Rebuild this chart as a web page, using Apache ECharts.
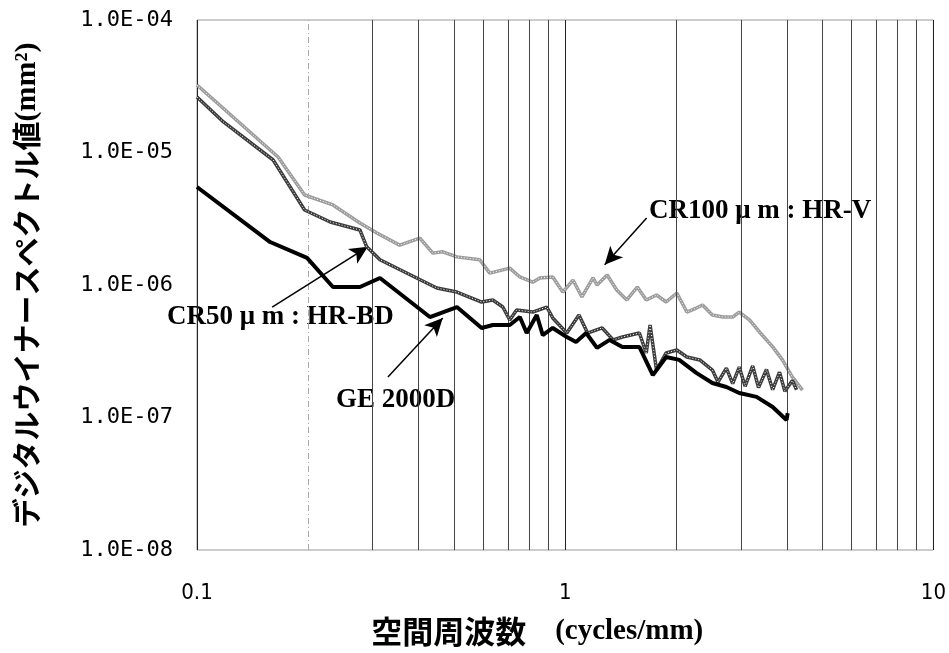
<!DOCTYPE html>
<html>
<head>
<meta charset="utf-8">
<script src="https://cdn.jsdelivr.net/npm/echarts@6/dist/echarts.min.js"></script>
<style>
  html, body { margin: 0; padding: 0; background: #fff; }
  #chart { width: 949px; height: 653px; }
</style>
</head>
<body>
<div id="chart"></div>
<script>
// CR100um : HR-V (light gray)
const hrvFreq = [0.1, 0.166, 0.196, 0.234, 0.277, 0.308, 0.355, 0.403, 0.437, 0.465, 0.508, 0.586, 0.624, 0.707, 0.753, 0.816, 0.853, 0.925, 0.985, 1.05, 1.11, 1.19, 1.22, 1.30, 1.38, 1.47, 1.57, 1.66, 1.77, 1.88, 2.01, 2.14, 2.27, 2.36, 2.51, 2.68, 2.85, 2.97, 3.17, 3.37, 3.66, 3.89, 4.14, 4.41];
const hrvValue = [3.23e-5, 9.25e-6, 4.78e-6, 4.02e-6, 2.94e-6, 2.47e-6, 2.00e-6, 2.26e-6, 1.74e-6, 1.78e-6, 1.63e-6, 1.55e-6, 1.23e-6, 1.34e-6, 1.15e-6, 1.05e-6, 1.13e-6, 1.15e-6, 8.85e-7, 1.09e-6, 8.12e-7, 1.13e-6, 1.00e-6, 1.19e-6, 9.17e-7, 7.71e-7, 9.66e-7, 7.71e-7, 8.40e-7, 7.44e-7, 8.70e-7, 6.25e-7, 6.70e-7, 7.06e-7, 5.94e-7, 5.73e-7, 5.73e-7, 6.25e-7, 5.44e-7, 4.42e-7, 3.41e-7, 2.72e-7, 2.02e-7, 1.61e-7];

// CR50um : HR-BD (dark gray)
const hrbdFreq = [0.1, 0.118, 0.161, 0.196, 0.230, 0.277, 0.289, 0.314, 0.395, 0.448, 0.508, 0.593, 0.636, 0.677, 0.707, 0.738, 0.816, 0.891, 0.925, 1.01, 1.09, 1.15, 1.26, 1.35, 1.43, 1.59, 1.66, 1.70, 1.77, 1.88, 2.01, 2.14, 2.32, 2.51, 2.60, 2.74, 2.85, 2.97, 3.08, 3.23, 3.35, 3.52, 3.66, 3.82, 3.95, 4.14, 4.25];
const hrbdValue = [2.62e-5, 1.70e-5, 8.78e-6, 3.68e-6, 2.99e-6, 2.60e-6, 1.94e-6, 1.55e-6, 1.13e-6, 9.49e-7, 8.85e-7, 7.44e-7, 7.71e-7, 6.82e-7, 5.44e-7, 6.47e-7, 6.25e-7, 6.82e-7, 5.64e-7, 4.34e-7, 5.94e-7, 4.34e-7, 4.74e-7, 3.85e-7, 4.05e-7, 4.34e-7, 3.07e-7, 4.99e-7, 2.28e-7, 3.07e-7, 3.23e-7, 2.86e-7, 2.72e-7, 2.28e-7, 1.85e-7, 2.36e-7, 1.80e-7, 2.40e-7, 1.72e-7, 2.45e-7, 1.68e-7, 2.30e-7, 1.62e-7, 2.20e-7, 1.58e-7, 1.90e-7, 1.62e-7];

// GE 2000D (black)
const geFreq = [0.1, 0.158, 0.199, 0.234, 0.277, 0.314, 0.429, 0.508, 0.593, 0.636, 0.707, 0.753, 0.786, 0.837, 0.869, 0.925, 1.01, 1.07, 1.14, 1.22, 1.32, 1.43, 1.59, 1.73, 1.88, 2.04, 2.27, 2.51, 2.74, 2.97, 3.31, 3.66, 3.99, 4.02];
const geValue = [5.49e-6, 2.11e-6, 1.60e-6, 9.66e-7, 9.66e-7, 1.13e-6, 5.73e-7, 6.82e-7, 4.74e-7, 4.99e-7, 4.99e-7, 5.73e-7, 4.34e-7, 5.94e-7, 4.19e-7, 4.74e-7, 4.05e-7, 3.72e-7, 4.34e-7, 3.35e-7, 3.85e-7, 3.41e-7, 3.41e-7, 2.09e-7, 2.86e-7, 2.72e-7, 2.17e-7, 1.82e-7, 1.70e-7, 1.53e-7, 1.43e-7, 1.20e-7, 9.57e-8, 1.08e-7];

// minor vertical grid lines of the log x axis
const minorTicks = [0.2, 0.3, 0.4, 0.5, 0.6, 0.7, 0.8, 0.9, 2, 3, 4, 5, 6, 7, 8, 9];

const zip = (xs, ys) => xs.map((x, i) => [x, ys[i]]);
const hrvData = zip(hrvFreq, hrvValue);
const hrbdData = zip(hrbdFreq, hrbdValue);
const geData = zip(geFreq, geValue);

const serifBold = { fontFamily: 'Liberation Serif', fontWeight: 'bold', fontSize: 27, fill: '#000' };
const arrowLine = (from, to) => ({
    silent: true,
    symbol: ['none', 'arrow'],
    symbolSize: [13, 18],
    label: { show: false },
    lineStyle: { color: '#000', width: 1.5, type: 'solid' },
    data: [[{ coord: from }, { coord: to }]]
});

const chart = echarts.init(document.getElementById('chart'), null, { renderer: 'canvas' });

chart.setOption({
    animation: false,
    backgroundColor: '#fff',
    grid: {
        left: 197, right: 15, top: 20, bottom: 103,
        show: true, borderColor: '#999', borderWidth: 1
    },
    xAxis: {
        type: 'log',
        logBase: 10,
        min: 0.1,
        max: 10,
        name: '{j|空間周波数}{s|　(cycles/mm)}',
        nameLocation: 'middle',
        nameGap: 66,
        nameTextStyle: {
            color: '#000',
            padding: [0, 56, 0, 0],
            rich: {
                j: { fontFamily: 'Noto Sans CJK JP', fontWeight: 'bold', fontSize: 31, color: '#000' },
                s: { fontFamily: 'Liberation Serif', fontWeight: 'bold', fontSize: 29, color: '#000' }
            }
        },
        axisLine: { show: false },
        axisTick: { show: false },
        axisLabel: {
            margin: 32,
            fontFamily: 'DejaVu Sans Condensed',
            fontSize: 22,
            color: '#000',
            formatter: v => String(+v.toPrecision(3))
        },
        splitLine: { show: true, lineStyle: { color: '#222', width: 1 } },
        minorTick: { show: false },
        minorSplitLine: { show: false }
    },
    yAxis: {
        type: 'log',
        logBase: 10,
        min: 1e-8,
        max: 1e-4,
        name: '{j|デジタルウイナースペクトル値}{s|(mm²)}',
        nameLocation: 'middle',
        nameRotate: 90,
        nameGap: 155,
        nameTextStyle: {
            color: '#000',
            rich: {
                j: { fontFamily: 'Noto Sans CJK JP', fontWeight: 'bold', fontSize: 29, color: '#000' },
                s: { fontFamily: 'Liberation Serif', fontWeight: 'bold', fontSize: 30, color: '#000' }
            }
        },
        axisLine: { show: false },
        axisTick: { show: false },
        axisLabel: {
            margin: 24,
            fontFamily: 'DejaVu Sans Mono',
            fontSize: 22,
            color: '#000',
            formatter: v => {
                const e = Math.round(Math.log10(v));
                return '1.0E' + (e < 0 ? '-' : '+') + String(Math.abs(e)).padStart(2, '0');
            }
        },
        splitLine: { show: false }
    },
    series: [
        {
            name: 'grid',
            type: 'line',
            data: [],
            silent: true,
            markLine: {
                silent: true,
                symbol: 'none',
                label: { show: false },
                lineStyle: { color: '#444', width: 1, type: 'solid' },
                data: minorTicks.map(t => ({
                    xAxis: t,
                    lineStyle: t === 0.2 ? { color: '#aaa', type: [6, 3, 1, 3] } : undefined
                }))
            }
        },
        {
            name: 'CR100μm:HR-V',
            type: 'line',
            data: hrvData,
            symbol: 'none',
            lineStyle: { color: '#9c9c9c', width: 3.5 },
            z: 3,
            markLine: arrowLine([1.664, 3.2e-6], [1.28, 1.42e-6])
        },
        {
            name: 'hrv-texture',
            type: 'line',
            data: hrvData,
            symbol: 'none',
            lineStyle: { color: '#fff', width: 1, type: [1, 2] },
            z: 4,
            silent: true
        },
        {
            name: 'CR50μm:HR-BD',
            type: 'line',
            data: hrbdData,
            symbol: 'none',
            lineStyle: { color: '#3c3c3c', width: 3.5 },
            z: 5,
            markLine: arrowLine([0.16, 6.82e-7], [0.291, 1.94e-6])
        },
        {
            name: 'hrbd-texture',
            type: 'line',
            data: hrbdData,
            symbol: 'none',
            lineStyle: { color: '#fff', width: 1, type: [1, 2] },
            z: 6,
            silent: true
        },
        {
            name: 'GE 2000D',
            type: 'line',
            data: geData,
            symbol: 'none',
            lineStyle: { color: '#000', width: 4 },
            z: 7,
            markLine: arrowLine([0.33, 2.02e-7], [0.465, 5.64e-7])
        }
    ],
    graphic: [
        { type: 'text', left: 649, top: 198, style: Object.assign({ text: 'CR100 μ m : HR-V' }, serifBold) },
        { type: 'text', left: 167, top: 304, style: Object.assign({ text: 'CR50 μ m : HR-BD' }, serifBold) },
        { type: 'text', left: 336, top: 387, style: Object.assign({ text: 'GE 2000D' }, serifBold) }
    ]
});
</script>
</body>
</html>
